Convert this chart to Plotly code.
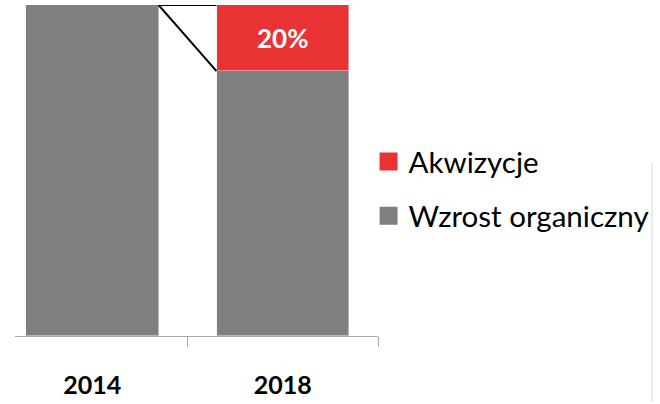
import plotly.graph_objects as go

years = ["2014", "2018"]
organic = [100, 80]
acquisitions = [0, 20]
series_names = ["Akwizycje", "Wzrost organiczny"]
red = "#E93234"
gray = "#7F7F7F"
bar_w = 0.696

totals = [o + a for o, a in zip(organic, acquisitions)]
acq_text = [f"{a}%" if a > 0 else "" for a in acquisitions]

fig = go.Figure()
fig.add_trace(go.Bar(x=years, y=organic, marker_color=gray, width=bar_w,
                     showlegend=False, hoverinfo="skip"))
fig.add_trace(go.Bar(x=years, y=acquisitions, marker_color=red, width=bar_w,
                     text=acq_text, textposition="inside", insidetextanchor="middle",
                     textfont=dict(family="Lato", size=26, color="white", weight="bold"),
                     showlegend=False, hoverinfo="skip"))
# legend entries
for name, col in zip(series_names, [red, gray]):
    fig.add_trace(go.Scatter(x=[None], y=[None], mode="markers", name=name,
                             legendgroup=name,
                             marker=dict(symbol="square", size=16, color=col,
                                         line=dict(width=2, color=col))))

# connector lines
fig.add_shape(type="line", xref="x", yref="y",
              x0=0 + bar_w / 2, y0=organic[0], x1=1 - bar_w / 2, y1=organic[1],
              line=dict(color="black", width=2))
fig.add_shape(type="line", xref="x", yref="y",
              x0=0 + bar_w / 2, y0=totals[0], x1=1 - bar_w / 2, y1=totals[1],
              line=dict(color="black", width=2))
# faint border line at right
fig.add_shape(type="line", xref="paper", yref="paper",
              x0=1.755, x1=1.755, y0=0.525, y1=-0.2,
              line=dict(color="#D9D9D9", width=1))

fig.update_layout(
    width=660, height=404,
    margin=dict(l=15, r=281, t=5, b=62),
    barmode="stack", bargap=0,
    plot_bgcolor="white", paper_bgcolor="white",
    font=dict(family="Lato", color="black"),
    legend=dict(x=0.974, xanchor="left", y=0.445, yanchor="middle",
                font=dict(family="Lato", size=29.5, color="black"),
                traceorder="grouped", tracegroupgap=13,
                bgcolor="rgba(0,0,0,0)"),
    xaxis=dict(type="category", range=[-0.406, 1.5], showline=True,
               linecolor="#A6A6A6", linewidth=1,
               ticks="outside", tickson="boundaries", ticklen=10,
               tickcolor="#A6A6A6", showgrid=False, zeroline=False,
               tickfont=dict(family="Lato", size=25, color="black", weight="bold"),
               ticklabelstandoff=27),
    yaxis=dict(range=[0, 100], visible=False, showgrid=False, zeroline=False),
)

fig.write_html("out.html", config={"displayModeBar": False},
               post_script="document.body.style.margin='0';document.body.style.overflow='hidden';")
